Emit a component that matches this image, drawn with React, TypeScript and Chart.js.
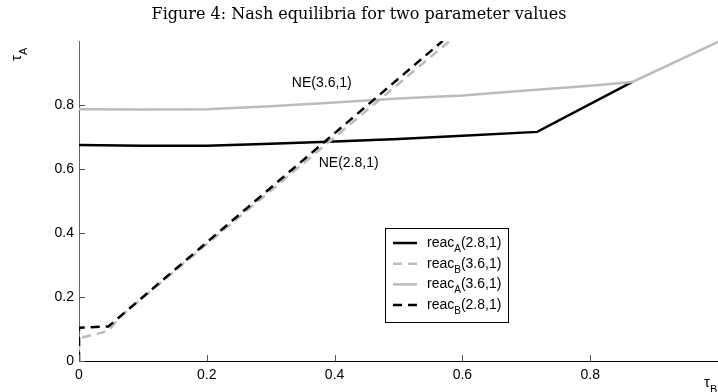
import { useEffect, useRef } from "react";
import { Chart, registerables } from "chart.js";

Chart.register(...registerables);

const titleText = "Figure 4: Nash equilibria for two parameter values";
const xTickValues = [0, 0.2, 0.4, 0.6, 0.8];
const yTickValues = [0, 0.2, 0.4, 0.6, 0.8];

// reac_A(2.8,1) black solid
const reacA28X = [0, 0.1, 0.2, 0.3, 0.4, 0.5, 0.6, 0.717, 0.866];
const reacA28Y = [0.675, 0.673, 0.673, 0.679, 0.686, 0.694, 0.704, 0.716, 0.872];
// reac_A(3.6,1) gray solid
const reacA36X = [0, 0.1, 0.2, 0.3, 0.4, 0.5, 0.6, 0.7, 0.8, 0.866, 1.0];
const reacA36Y = [0.787, 0.786, 0.787, 0.796, 0.808, 0.82, 0.83, 0.845, 0.86, 0.872, 0.997];
// reac_B(2.8,1) black dashed
const reacB28X = [0, 0, 0.046, 0.569];
const reacB28Y = [0, 0.104, 0.108, 1.0];
// reac_B(3.6,1) gray dashed
const reacB36X = [0, 0, 0.046, 0.064, 0.58];
const reacB36Y = [0, 0.071, 0.094, 0.138, 1.0];

// annotation labels (data coordinates)
const noteTexts = ["NE(3.6,1)", "NE(2.8,1)"];
const noteX = [0.38, 0.422];
const noteY = [0.868, 0.618];

const legendNames = ["reac", "reac", "reac", "reac"];
const legendSubs = ["A", "B", "A", "B"];
const legendArgs = ["(2.8,1)", "(3.6,1)", "(3.6,1)", "(2.8,1)"];

const BLACK = "#000000";
const GRAY = "#bbbbbb";
const DASH = [9, 6];
const FONT = "'Liberation Sans', Arial, Helvetica, sans-serif";

const toPts = (xs: number[], ys: number[]) => xs.map((x, i) => ({ x, y: ys[i] }));

const legendStyles = [
  { color: BLACK, dash: [] as number[] },
  { color: GRAY, dash: DASH },
  { color: GRAY, dash: [] as number[] },
  { color: BLACK, dash: DASH },
];

const overlayPlugin = {
  id: "overlay",
  afterDraw(chart: any) {
    const { ctx, chartArea, scales } = chart;
    const xs = scales.x;
    const ys = scales.y;
    ctx.save();

    // inward ticks
    ctx.lineWidth = 1;
    ctx.strokeStyle = "#555555";
    ctx.setLineDash([]);
    xs.ticks.forEach((t: any) => {
      const px = Math.round(xs.getPixelForValue(t.value)) + 0.5;
      ctx.beginPath();
      ctx.moveTo(px, chartArea.bottom);
      ctx.lineTo(px, chartArea.bottom - 6);
      ctx.stroke();
    });
    ys.ticks.forEach((t: any) => {
      const py = Math.round(ys.getPixelForValue(t.value)) + 0.5;
      ctx.beginPath();
      ctx.moveTo(chartArea.left, py);
      ctx.lineTo(chartArea.left + 6, py);
      ctx.stroke();
    });

    // annotations
    ctx.fillStyle = "#000";
    ctx.font = `14px ${FONT}`;
    ctx.textAlign = "center";
    ctx.textBaseline = "middle";
    noteTexts.forEach((txt, i) => {
      ctx.fillText(txt, xs.getPixelForValue(noteX[i]), ys.getPixelForValue(noteY[i]));
    });

    // legend
    const lLeft = chartArea.left + 306;
    const lTop = chartArea.top + 187;
    const lW = 123;
    const lH = 94;
    ctx.fillStyle = "#fff";
    ctx.fillRect(lLeft, lTop, lW, lH);
    ctx.strokeStyle = "#000";
    ctx.lineWidth = 1;
    ctx.strokeRect(lLeft + 0.5, lTop + 0.5, lW, lH);
    legendNames.forEach((name, i) => {
      const ry = lTop + 15 + i * 20.7;
      const st = legendStyles[i];
      ctx.strokeStyle = st.color;
      ctx.lineWidth = 2.5;
      ctx.setLineDash(st.dash);
      ctx.beginPath();
      ctx.moveTo(lLeft + 8, ry);
      ctx.lineTo(lLeft + 32, ry);
      ctx.stroke();
      ctx.setLineDash([]);
      ctx.fillStyle = "#000";
      ctx.textAlign = "left";
      ctx.textBaseline = "alphabetic";
      ctx.font = `14px ${FONT}`;
      let tx = lLeft + 42;
      const base = ry + 4;
      ctx.fillText(name, tx, base);
      tx += ctx.measureText(name).width;
      ctx.font = `10px ${FONT}`;
      ctx.fillText(legendSubs[i], tx, base + 5);
      tx += ctx.measureText(legendSubs[i]).width;
      ctx.font = `14px ${FONT}`;
      ctx.fillText(legendArgs[i], tx, base);
    });

    // axis titles
    ctx.fillStyle = "#000";
    ctx.textAlign = "left";
    ctx.textBaseline = "alphabetic";
    ctx.save();
    ctx.translate(21, 61);
    ctx.rotate(-Math.PI / 2);
    ctx.font = `15px ${FONT}`;
    ctx.fillText("τ", 0, 0);
    const wA = ctx.measureText("τ").width;
    ctx.font = `11px ${FONT}`;
    ctx.fillText("A", wA, 6);
    ctx.restore();
    ctx.font = `15px ${FONT}`;
    ctx.fillText("τ", 704, 387);
    const wB = ctx.measureText("τ").width;
    ctx.font = `11px ${FONT}`;
    ctx.fillText("B", 704 + wB, 393);

    ctx.restore();
  },
};

export default function App() {
  const ref = useRef<HTMLCanvasElement | null>(null);
  useEffect(() => {
    document.body.style.margin = "0";
    const canvas = ref.current;
    if (!canvas) return;
    const chart = new Chart(canvas, {
      type: "line",
      data: {
        datasets: [
          {
            label: "reac_B(2.8,1)",
            data: toPts(reacB28X, reacB28Y),
            borderColor: BLACK,
            borderWidth: 2.5,
            borderDash: DASH,
            pointRadius: 0,
            fill: false,
            tension: 0,
            order: 0,
          },
          {
            label: "reac_B(3.6,1)",
            data: toPts(reacB36X, reacB36Y),
            borderColor: GRAY,
            borderWidth: 2.5,
            borderDash: DASH,
            borderDashOffset: 4,
            pointRadius: 0,
            fill: false,
            tension: 0,
            order: 1,
          },
          {
            label: "reac_A(3.6,1)",
            data: toPts(reacA36X, reacA36Y),
            borderColor: GRAY,
            borderWidth: 2.5,
            pointRadius: 0,
            fill: false,
            tension: 0,
            order: 2,
          },
          {
            label: "reac_A(2.8,1)",
            data: toPts(reacA28X, reacA28Y),
            borderColor: BLACK,
            borderWidth: 2.5,
            pointRadius: 0,
            fill: false,
            tension: 0,
            order: 3,
          },
        ],
      },
      options: {
        responsive: false,
        animation: false,
        parsing: false as any,
        layout: { padding: 0 },
        plugins: {
          legend: { display: false },
          tooltip: { enabled: false },
          title: {
            display: true,
            text: titleText,
            color: "#000",
            font: { family: "'DejaVu Serif', serif", size: 16, weight: "normal" as any, lineHeight: 1.2 },
            padding: { top: 5, bottom: 16.8 },
          },
        },
        scales: {
          x: {
            type: "linear",
            min: 0,
            max: 1,
            grid: { display: false, drawTicks: false },
            border: { display: true, color: "#000", width: 1 },
            ticks: {
              stepSize: 0.2,
              padding: 6,
              color: "#000",
              font: { family: FONT, size: 14 },
              maxRotation: 0,
            },
            afterBuildTicks: (scale: any) => {
              scale.ticks = xTickValues.map((v) => ({ value: v }));
            },
            afterFit: (scale: any) => {
              scale.height = 31;
            },
          },
          y: {
            type: "linear",
            min: 0,
            max: 1,
            grid: { display: false, drawTicks: false },
            border: { display: true, color: "#666", width: 1 },
            ticks: {
              stepSize: 0.2,
              padding: 5,
              color: "#000",
              font: { family: FONT, size: 14 },
            },
            afterBuildTicks: (scale: any) => {
              scale.ticks = yTickValues.map((v) => ({ value: v }));
            },
            afterFit: (scale: any) => {
              scale.width = 79;
            },
          },
        },
      },
      plugins: [overlayPlugin],
    });
    return () => chart.destroy();
  }, []);
  return (
    <div style={{ width: 718, height: 392 }}>
      <canvas ref={ref} width={718} height={392} style={{ display: "block", width: 718, height: 392 }} />
    </div>
  );
}
